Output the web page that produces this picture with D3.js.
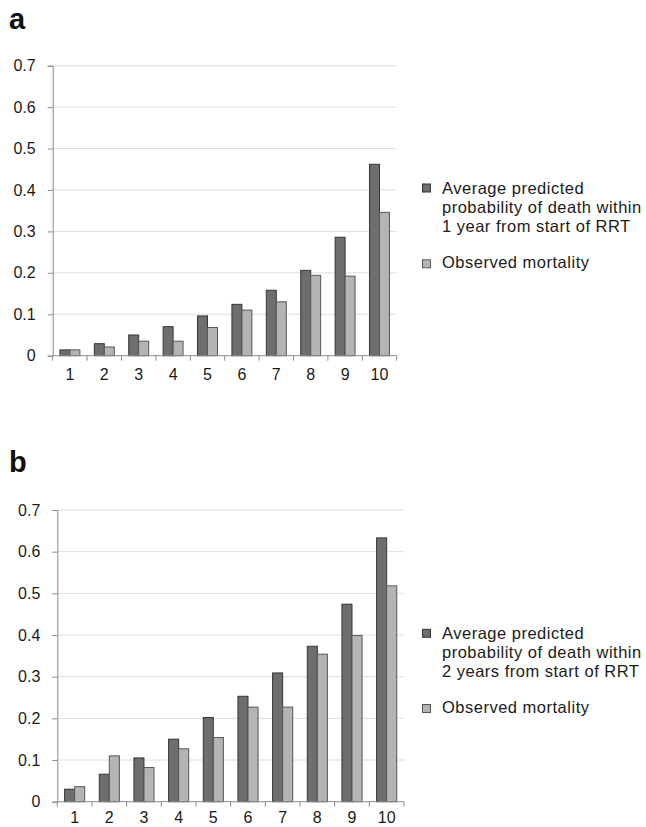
<!DOCTYPE html>
<html>
<head>
<meta charset="utf-8">
<script src="https://cdn.jsdelivr.net/npm/d3@7"></script>
<style>
  body { margin: 0; background: #fff; }
  svg { display: block; font-family: "Liberation Sans", Arial, sans-serif; }
</style>
</head>
<body>
<svg id="chart" width="646" height="827"></svg>
<script>
(function(){
    var categories = ["1", "2", "3", "4", "5", "6", "7", "8", "9", "10"];
    var yTicks = [0, 0.1, 0.2, 0.3, 0.4, 0.5, 0.6, 0.7];

    // panel a: 1 year
    var predicted1y = [0.014, 0.029, 0.050, 0.070, 0.096, 0.124, 0.158, 0.206, 0.286, 0.462];
    var observed1y  = [0.014, 0.021, 0.035, 0.035, 0.068, 0.110, 0.130, 0.194, 0.192, 0.346];

    // panel b: 2 years
    var predicted2y = [0.030, 0.066, 0.105, 0.150, 0.202, 0.253, 0.309, 0.373, 0.474, 0.633];
    var observed2y  = [0.036, 0.110, 0.082, 0.127, 0.154, 0.227, 0.227, 0.354, 0.399, 0.518];

    var seriesNames = ["predicted", "observed"];
    var fills = { predicted: "#6e6e6e", observed: "#b4b4b4" };
    var strokes = { predicted: "#353535", observed: "#575757" };

    var panels = [
        { label: "a", labelY: 29, left: 52.7, right: 396.7, top: 65.7, bottom: 355.7, xLabelDy: 24,
          pred: predicted1y, obs: observed1y, legendY: 194, obsY: 268.3,
          legendLines: ["Average predicted", "probability of death within", "1 year from start of RRT"] },
        { label: "b", labelY: 472, left: 57.3, right: 404, top: 510, bottom: 801.7, xLabelDy: 21.5,
          pred: predicted2y, obs: observed2y, legendY: 639.3, obsY: 713,
          legendLines: ["Average predicted", "probability of death within", "2 years from start of RRT"] }
    ];

    var svg = d3.select("#chart");

    panels.forEach(drawPanel);

    function drawPanel(p){
        var g = svg.append("g");

        g.append("text")
            .attr("x", 9)
            .attr("y", p.labelY)
            .attr("font-size", 29)
            .attr("font-weight", "bold")
            .attr("fill", "#111")
            .text(p.label);

        var x = d3.scaleBand()
            .domain(categories)
            .range([p.left, p.right])
            .paddingInner(0.42)
            .paddingOuter(0.21);

        var xInner = d3.scaleBand()
            .domain(seriesNames)
            .range([0, x.bandwidth()]);

        var y = d3.scaleLinear()
            .domain([0, 0.7])
            .range([p.bottom, p.top]);

        // gridlines
        g.selectAll("line.grid")
            .data(yTicks.filter(function(d){ return d > 0; }))
            .enter()
            .append("line")
            .attr("class", "grid")
            .attr("x1", p.left)
            .attr("x2", p.right)
            .attr("y1", function(d){ return y(d); })
            .attr("y2", function(d){ return y(d); })
            .attr("stroke", "#dedede")
            .attr("stroke-width", 1);

        // y axis
        var yAxis = d3.axisLeft(y)
            .tickValues(yTicks)
            .tickSize(5)
            .tickPadding(12)
            .tickFormat(function(d){ return d === 0 ? "0" : d3.format(".1f")(d); });

        var yg = g.append("g")
            .attr("transform", "translate(" + p.left + ",0)")
            .call(yAxis);
        yg.select(".domain").attr("stroke", "#8a8a8a");
        yg.selectAll(".tick line").attr("stroke", "#8a8a8a");
        yg.selectAll(".tick text")
            .attr("font-size", 16)
            .attr("font-family", "Liberation Sans, Arial, sans-serif")
            .attr("fill", "#1a1a1a");

        // bars
        var rows = categories.map(function(c, i){
            return { cat: c, predicted: p.pred[i], observed: p.obs[i] };
        });

        var groups = g.selectAll("g.cat")
            .data(rows)
            .enter()
            .append("g")
            .attr("class", "cat")
            .attr("transform", function(d){ return "translate(" + x(d.cat) + ",0)"; });

        groups.selectAll("rect")
            .data(function(d){
                return seriesNames.map(function(s){ return { key: s, value: d[s] }; });
            })
            .enter()
            .append("rect")
            .attr("x", function(d){ return xInner(d.key); })
            .attr("width", xInner.bandwidth())
            .attr("y", function(d){ return y(d.value); })
            .attr("height", function(d){ return y(0) - y(d.value); })
            .attr("fill", function(d){ return fills[d.key]; })
            .attr("stroke", function(d){ return strokes[d.key]; })
            .attr("stroke-width", 1);

        // x axis line and category boundary ticks
        var step = x.step();
        g.append("line")
            .attr("x1", p.left)
            .attr("x2", p.right)
            .attr("y1", y(0))
            .attr("y2", y(0))
            .attr("stroke", "#8a8a8a");

        g.selectAll("line.xtick")
            .data(d3.range(categories.length + 1))
            .enter()
            .append("line")
            .attr("class", "xtick")
            .attr("x1", function(i){ return p.left + i * step; })
            .attr("x2", function(i){ return p.left + i * step; })
            .attr("y1", y(0))
            .attr("y2", y(0) + 5)
            .attr("stroke", "#8a8a8a");

        g.selectAll("text.xlabel")
            .data(categories)
            .enter()
            .append("text")
            .attr("class", "xlabel")
            .attr("x", function(d){ return x(d) + x.bandwidth() / 2; })
            .attr("y", y(0) + p.xLabelDy)
            .attr("text-anchor", "middle")
            .attr("font-size", 16)
            .attr("fill", "#1a1a1a")
            .text(function(d){ return d; });

        // legend
        var lg = g.append("g");
        lg.append("rect")
            .attr("x", 422.5).attr("y", p.legendY - 10)
            .attr("width", 8).attr("height", 8)
            .attr("fill", fills.predicted).attr("stroke", strokes.predicted);
        lg.append("rect")
            .attr("x", 422.5).attr("y", p.obsY - 8.5)
            .attr("width", 8).attr("height", 8)
            .attr("fill", fills.observed).attr("stroke", strokes.observed);

        lg.selectAll("text.leg")
            .data(p.legendLines)
            .enter()
            .append("text")
            .attr("class", "leg")
            .attr("x", 442)
            .attr("y", function(d, i){ return p.legendY + i * 19; })
            .attr("font-size", 16.5)
            .attr("letter-spacing", 0.5)
            .attr("fill", "#1a1a1a")
            .text(function(d){ return d; });

        lg.append("text")
            .attr("x", 442)
            .attr("y", p.obsY)
            .attr("font-size", 16.5)
            .attr("letter-spacing", 0.5)
            .attr("fill", "#1a1a1a")
            .text("Observed mortality");
    }
})();
</script>
</body>
</html>
